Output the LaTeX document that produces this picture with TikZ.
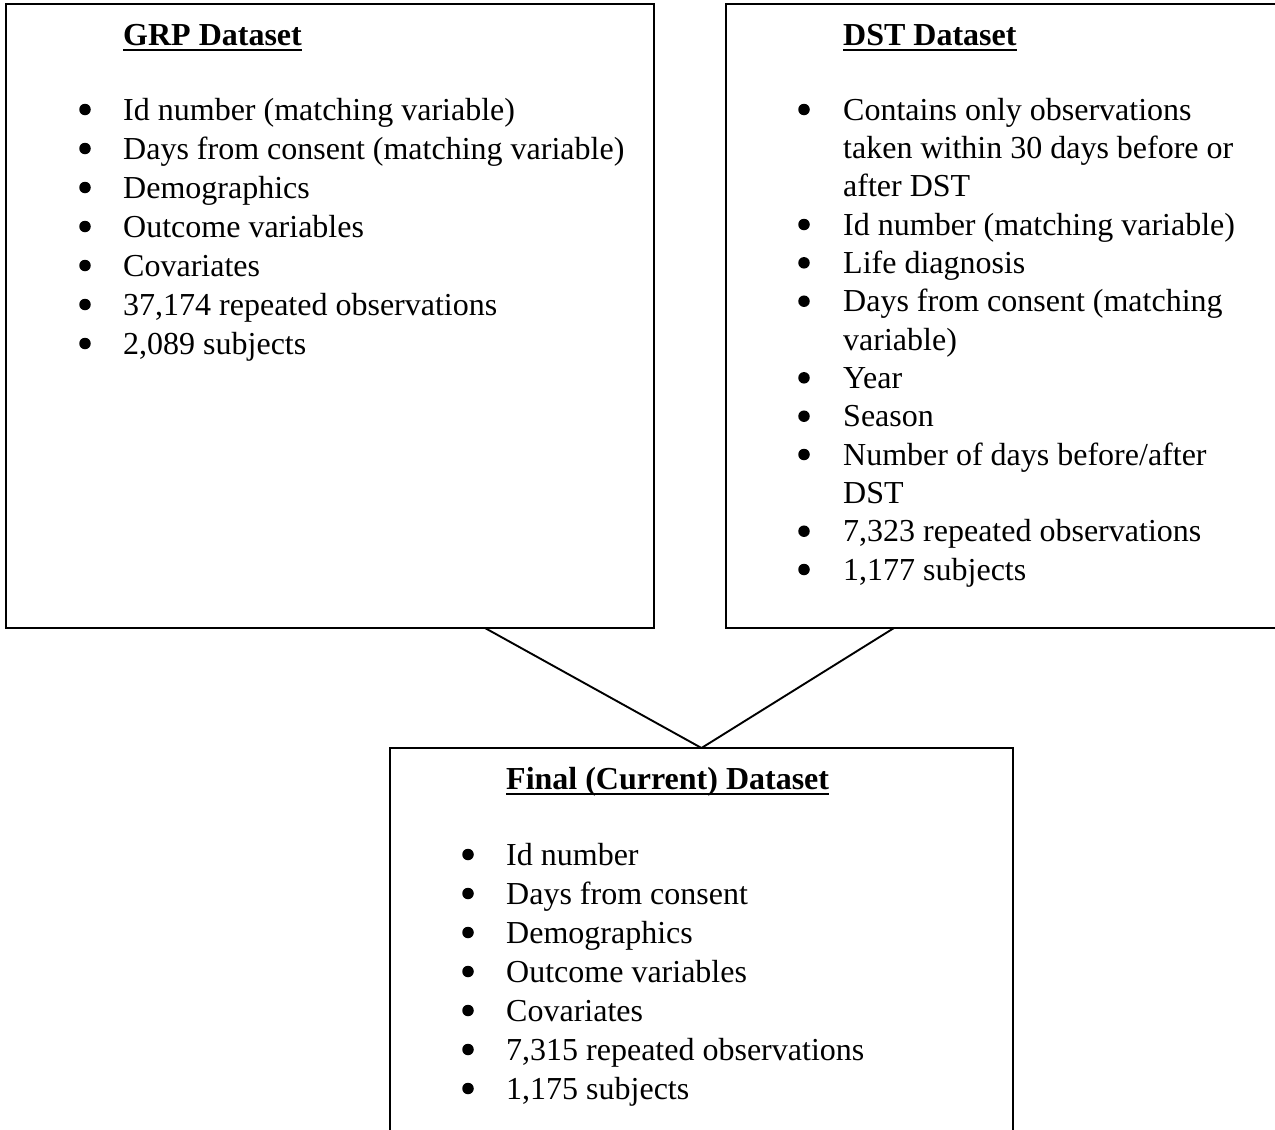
\documentclass[tikz,border=0pt]{standalone}
\usepackage{fontspec}
\setmainfont{Liberation Serif}
\begin{document}
\begin{tikzpicture}[x=1pt,y=1pt,
  box/.style={draw=black,line width=2,outer sep=0,inner sep=0,anchor=north west},
  conn/.style={draw=black,line width=1.9},
  txt/.style={anchor=base west,inner sep=0,font=\fontsize{32}{38}\selectfont},
  ttl/.style={txt,font=\fontsize{32}{38}\selectfont\bfseries},
  bul/.style={circle,fill=black,inner sep=0,minimum size=11.5,yshift=10.5},
  uline/.style={line width=2.6}]
\useasboundingbox (0,0) rectangle (1275,-1130);
\clip (0,0) rectangle (1275,-1130);
\fill[white] (0,0) rectangle (1275,-1130);
% boxes
\node[box,minimum width=648,minimum height=624] (grp) at (6,-4) {};
\node[box,minimum width=620,minimum height=624] (dst) at (726,-4) {};
\node[box,minimum width=623,minimum height=460] (final) at (390,-748) {};
% connectors
\coordinate (ga) at ([xshift=479]grp.south west);
\coordinate (da) at ([xshift=168]dst.south west);
\draw[conn] (ga) -- (final.north);
\draw[conn] (da) -- (final.north);
% titles
\node[ttl] (grpT) at (123,-45) {GRP Dataset};
\draw[uline] ([yshift=-5]grpT.base west) -- ([yshift=-5]grpT.base east);
\node[ttl] (dstT) at (843,-45) {DST Dataset};
\draw[uline] ([yshift=-5]dstT.base west) -- ([yshift=-5]dstT.base east);
\node[ttl] (finT) at (506,-789) {Final (Current) Dataset};
\draw[uline] ([yshift=-5]finT.base west) -- ([yshift=-5]finT.base east);
% GRP items
\node[bul] (gb1) at (85,-120) {};
\node[txt] (g1) at (123,-120) {Id number (matching variable)};
\node[bul] (gb2) at (85,-159) {};
\node[txt] (g2) at (123,-159) {Days from consent (matching variable)};
\node[bul] (gb3) at (85,-198) {};
\node[txt] (g3) at (123,-198) {Demographics};
\node[bul] (gb4) at (85,-237) {};
\node[txt] (g4) at (123,-237) {Outcome variables};
\node[bul] (gb5) at (85,-276) {};
\node[txt] (g5) at (123,-276) {Covariates};
\node[bul] (gb6) at (85,-315) {};
\node[txt] (g6) at (123,-315) {37,174 repeated observations};
\node[bul] (gb7) at (85,-354) {};
\node[txt] (g7) at (123,-354) {2,089 subjects};
% DST items
\node[bul] (db1) at (804,-120) {};
\node[txt] (d1a) at (843,-120) {Contains only observations};
\node[txt] (d1b) at (843,-158.3) {taken within 30 days before or};
\node[txt] (d1c) at (843,-196.7) {after DST};
\node[bul] (db2) at (804,-235) {};
\node[txt] (d2) at (843,-235) {Id number (matching variable)};
\node[bul] (db3) at (804,-273.3) {};
\node[txt] (d3) at (843,-273.3) {Life diagnosis};
\node[bul] (db4) at (804,-311.7) {};
\node[txt] (d4a) at (843,-311.7) {Days from consent (matching};
\node[txt] (d4b) at (843,-350) {variable)};
\node[bul] (db5) at (804,-388.3) {};
\node[txt] (d5) at (843,-388.3) {Year};
\node[bul] (db6) at (804,-426.7) {};
\node[txt] (d6) at (843,-426.7) {Season};
\node[bul] (db7) at (804,-465) {};
\node[txt] (d7a) at (843,-465) {Number of days before/after};
\node[txt] (d7b) at (843,-503.3) {DST};
\node[bul] (db8) at (804,-541.7) {};
\node[txt] (d8) at (843,-541.7) {7,323 repeated observations};
\node[bul] (db9) at (804,-580) {};
\node[txt] (d9) at (843,-580) {1,177 subjects};
% Final items
\node[bul] (fb1) at (468,-865) {};
\node[txt] (f1) at (506,-865) {Id number};
\node[bul] (fb2) at (468,-904) {};
\node[txt] (f2) at (506,-904) {Days from consent};
\node[bul] (fb3) at (468,-943) {};
\node[txt] (f3) at (506,-943) {Demographics};
\node[bul] (fb4) at (468,-982) {};
\node[txt] (f4) at (506,-982) {Outcome variables};
\node[bul] (fb5) at (468,-1021) {};
\node[txt] (f5) at (506,-1021) {Covariates};
\node[bul] (fb6) at (468,-1060) {};
\node[txt] (f6) at (506,-1060) {7,315 repeated observations};
\node[bul] (fb7) at (468,-1099) {};
\node[txt] (f7) at (506,-1099) {1,175 subjects};
\end{tikzpicture}
\end{document}
